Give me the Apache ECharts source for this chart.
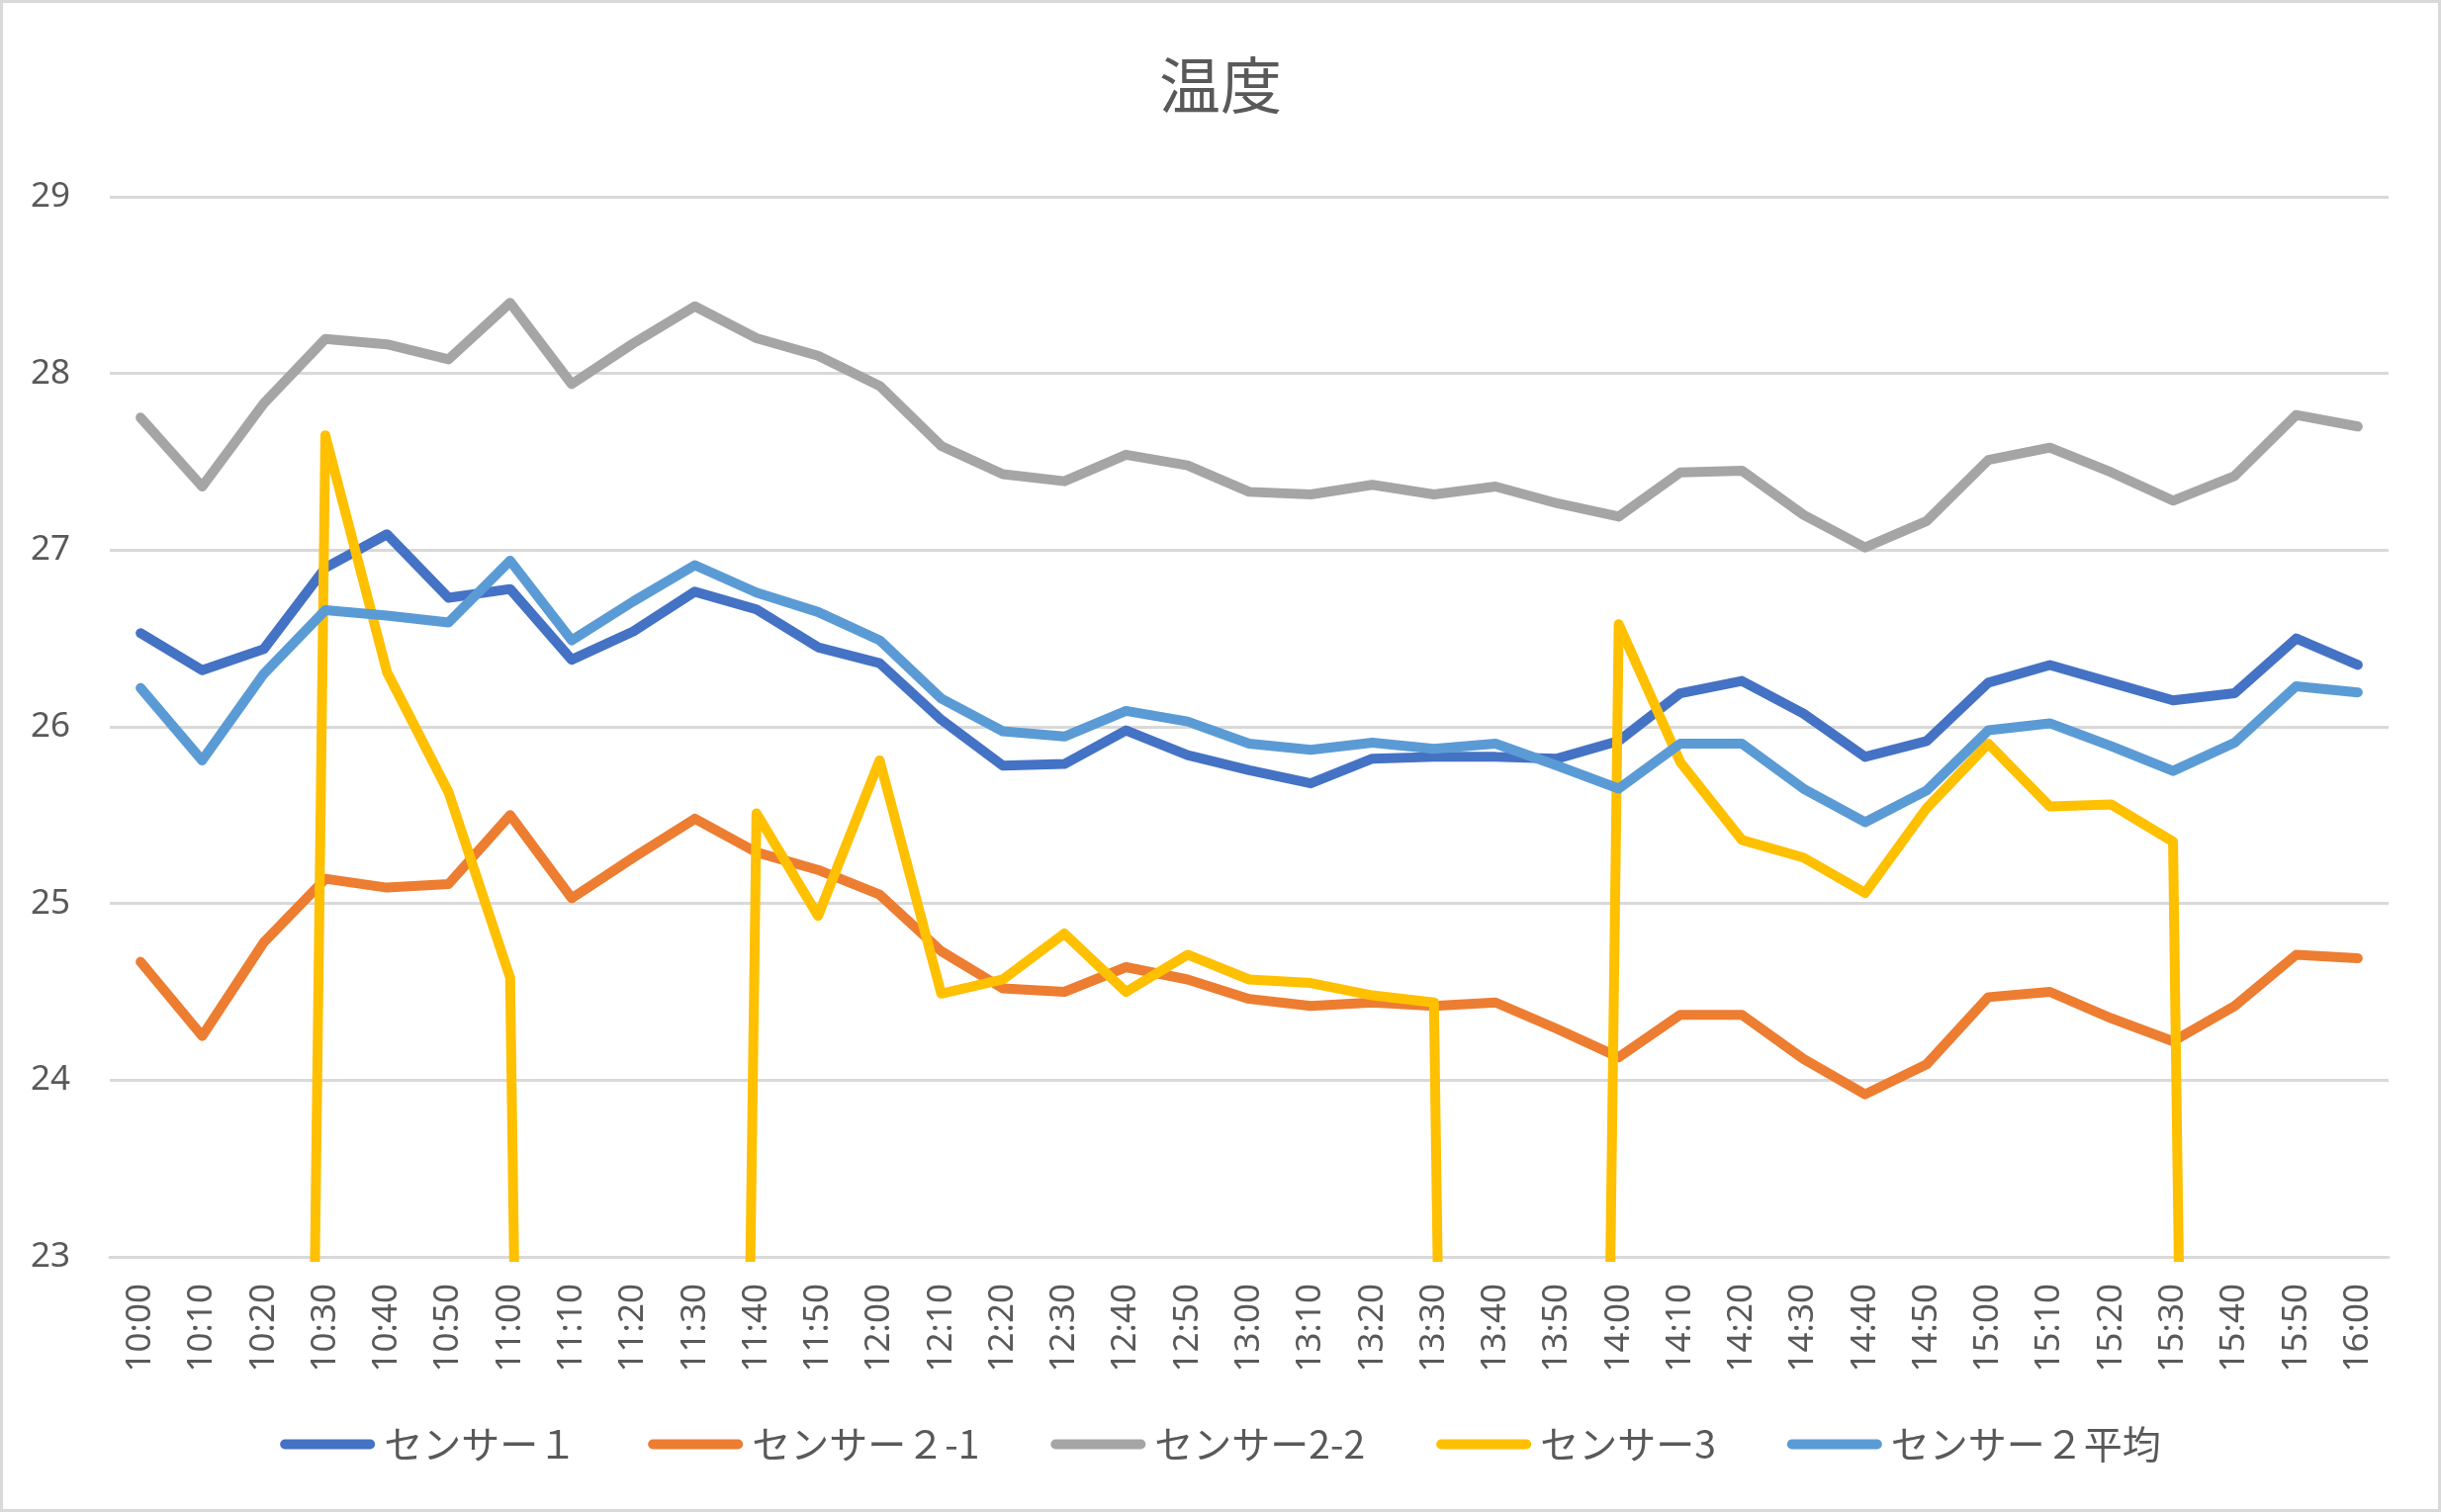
<!DOCTYPE html>
<html>
<head>
<meta charset="utf-8">
<script src="https://cdn.jsdelivr.net/npm/echarts@6/dist/echarts.min.js"></script>
<style>
html,body{margin:0;padding:0;background:#fff;}
#c{width:2468px;height:1529px;}
</style>
</head>
<body>
<div id="c"></div>
<script>
const categories = ['10:00','10:10','10:20','10:30','10:40','10:50','11:00','11:10','11:20','11:30','11:40','11:50','12:00','12:10','12:20','12:30','12:40','12:50','13:00','13:10','13:20','13:30','13:40','13:50','14:00','14:10','14:20','14:30','14:40','14:50','15:00','15:10','15:20','15:30','15:40','15:50','16:00'];

const sensor1 = [26.53,26.32,26.44,26.90,27.09,26.73,26.78,26.38,26.54,26.765,26.665,26.45,26.36,
  26.04,25.78,25.79,25.98,25.84,25.755,
  25.68,25.82,25.83,25.83,25.82,25.92,
  26.19,26.26,26.075,25.83,25.92,26.25,
  26.35,26.25,26.15,26.19,26.50,26.35];

const sensor2_1 = [24.67,24.25,24.78,25.14,25.09,25.11,25.50,25.03,25.26,25.48,25.29,25.19,25.05,
  24.73,24.52,24.50,24.64,24.57,24.46,
  24.42,24.44,24.42,24.44,24.29,24.13,
  24.37,24.37,24.12,23.92,24.09,24.47,
  24.50,24.35,24.22,24.42,24.71,24.69];

const sensor2_2 = [27.75,27.36,27.83,28.195,28.165,28.08,28.40,27.94,28.17,28.38,28.20,28.10,27.93,
  27.59,27.43,27.39,27.54,27.48,27.33,
  27.315,27.37,27.315,27.36,27.265,27.19,
  27.44,27.45,27.20,27.015,27.165,27.51,
  27.58,27.44,27.28,27.42,27.765,27.70];

const sensor3 = [0,0,0,27.65,26.31,25.63,24.58,0,0,0,25.51,24.93,25.81,
  24.49,24.57,24.83,24.50,24.71,24.57,
  24.55,24.48,24.44,0,0,26.58,
  25.80,25.36,25.26,25.06,25.54,25.905,
  25.55,25.56,25.35,0,0,0];

const sensor2avg = [26.22,25.81,26.30,26.66,26.63,26.59,26.94,26.49,26.71,26.915,26.76,26.65,26.49,
  26.16,25.975,25.945,26.09,26.03,25.905,
  25.87,25.91,25.875,25.905,25.78,25.65,
  25.905,25.905,25.65,25.46,25.64,25.98,
  26.02,25.89,25.75,25.91,26.23,26.195];

const seriesNames = ['センサー１','センサー２-1','センサー2-2','センサー3','センサー２平均'];
const seriesColors = ['#4472C4','#ED7D31','#A5A5A5','#FFC000','#5B9BD5'];
const seriesData = [sensor1, sensor2_1, sensor2_2, sensor3, sensor2avg];

const yTicks = {min: 23, max: 29, interval: 1};

const chart = echarts.init(document.getElementById('c'));
const capsule = 'path://M5,0 L91,0 A5,5 0 0 1 91,10 L5,10 A5,5 0 0 1 5,0 Z';

chart.setOption({
  backgroundColor: '#ffffff',
  animation: false,
  graphic: [{
    type: 'rect',
    shape: {x: 1.5, y: 1.5, width: 2465, height: 1526},
    style: {fill: 'none', stroke: '#D9D9D9', lineWidth: 3},
    silent: true
  }],
  title: {
    text: '温度',
    left: 'center',
    top: 50,
    textStyle: {
      fontFamily: 'Noto Sans CJK JP',
      fontSize: 62,
      fontWeight: 'normal',
      color: '#595959'
    }
  },
  legend: {
    top: 1436,
    left: 'center',
    itemWidth: 96,
    itemHeight: 11,
    itemGap: 72,
    icon: capsule,
    data: seriesNames.map(function (n, i) { return {name: n, itemStyle: {color: seriesColors[i]}}; }),
    textStyle: {
      fontFamily: 'Noto Sans CJK JP',
      fontSize: 39,
      color: '#595959',
      padding: [0, 0, 0, 4]
    }
  },
  grid: {left: 111, right: 53, top: 199, bottom: 258, containLabel: false},
  xAxis: {
    type: 'category',
    data: categories,
    boundaryGap: true,
    axisLine: {show: true, lineStyle: {color: '#D9D9D9', width: 3}},
    axisTick: {show: false},
    axisLabel: {
      interval: 0,
      rotate: 90,
      margin: 27,
      fontFamily: 'Noto Sans',
      fontSize: 35,
      color: '#595959'
    }
  },
  yAxis: {
    type: 'value',
    min: yTicks.min,
    max: yTicks.max,
    interval: yTicks.interval,
    axisLine: {show: false},
    axisTick: {show: false},
    splitLine: {show: true, lineStyle: {color: '#D9D9D9', width: 3}},
    axisLabel: {
      margin: 40,
      fontFamily: 'Noto Sans',
      fontSize: 35,
      color: '#595959'
    }
  },
  series: seriesData.map(function (d, i) {
    return {
      name: seriesNames[i],
      type: 'line',
      data: d,
      symbol: 'none',
      showSymbol: false,
      clip: true,
      z: 2 + i,
      lineStyle: {color: seriesColors[i], width: 10, cap: 'round', join: 'round'},
      itemStyle: {color: seriesColors[i]}
    };
  })
});
</script>
</body>
</html>
